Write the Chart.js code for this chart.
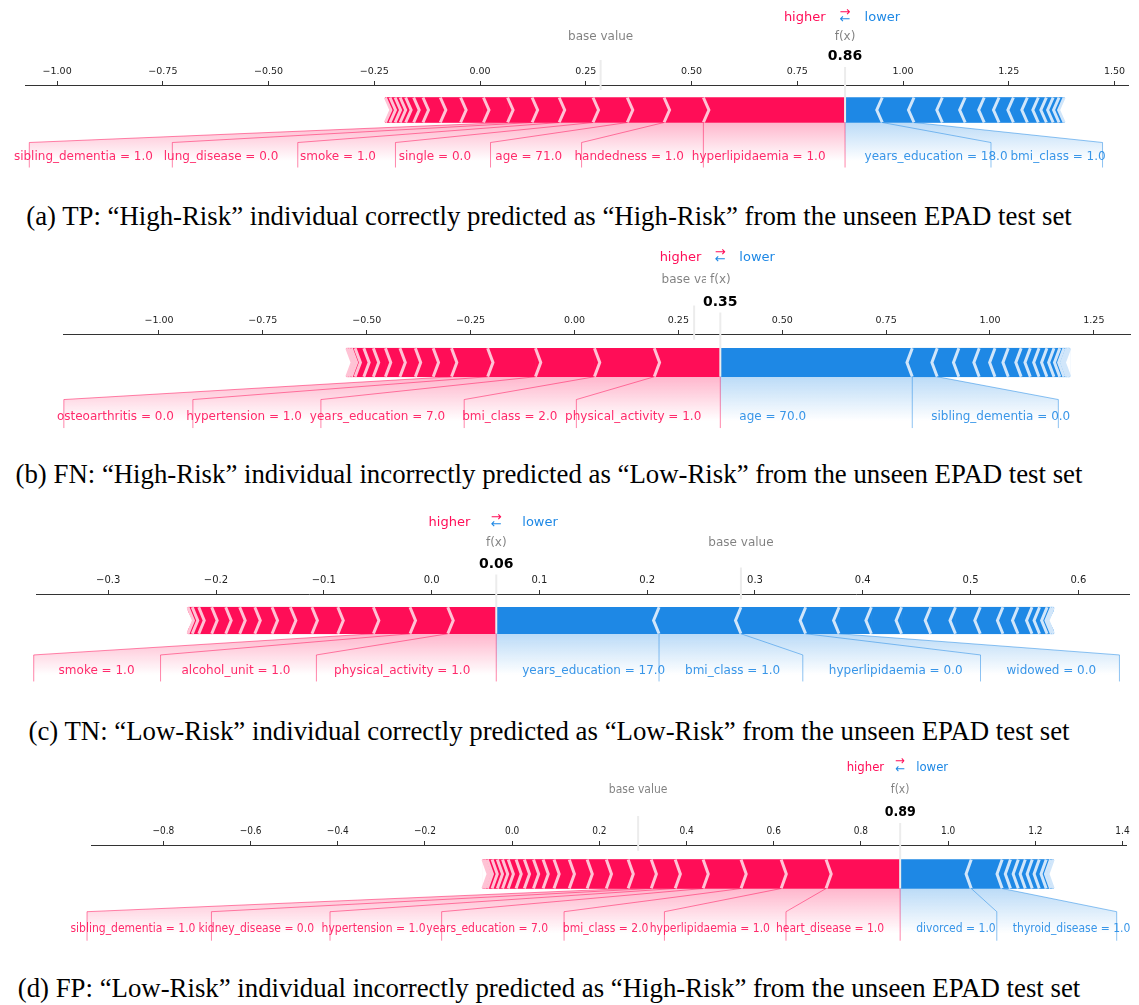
<!DOCTYPE html>
<html>
<head>
<meta charset="utf-8">
<script src="https://cdn.jsdelivr.net/npm/chart.js@4.4.0/dist/chart.umd.min.js"></script>
<style>
  body { margin: 0; background: #fff; width: 1139px; height: 1005px; position: relative; overflow: hidden; }
  .panel { position: absolute; left: 0; width: 1139px; }
  .caption { position: absolute; left: 0; width: 1098px; text-align: center; white-space: nowrap;
             font-family: "Liberation Serif", "Times New Roman", serif; font-size: 26.8px; line-height: 30px; color: #000; }
</style>
</head>
<body>
<div class="panel" style="top:0;height:185px"><canvas id="forceTP"></canvas></div>
<div class="caption" style="top:201px">(a) TP: “High-Risk” individual correctly predicted as “High-Risk” from the unseen EPAD test set</div>
<div class="panel" style="top:245px;height:203px"><canvas id="forceFN"></canvas></div>
<div class="caption" style="top:459px">(b) FN: “High-Risk” individual incorrectly predicted as “Low-Risk” from the unseen EPAD test set</div>
<div class="panel" style="top:505px;height:195px"><canvas id="forceTN"></canvas></div>
<div class="caption" style="top:716px">(c) TN: “Low-Risk” individual correctly predicted as “Low-Risk” from the unseen EPAD test set</div>
<div class="panel" style="top:755px;height:206px"><canvas id="forceFP"></canvas></div>
<div class="caption" style="top:973px">(d) FP: “Low-Risk” individual incorrectly predicted as “High-Risk” from the unseen EPAD test set</div>

<script>
// (a) TP
const tpOutput = 0.863;
const tpBase = 0.285;
const tpHigherNames = ["hyperlipidaemia = 1.0", "handedness = 1.0", "age = 71.0", "single = 0.0", "smoke = 1.0", "lung_disease = 0.0", "sibling_dementia = 1.0"];
const tpHigherShap = [0.335, 0.093, 0.087, 0.081, 0.080, 0.064, 0.058, 0.057, 0.054, 0.048, 0.041, 0.022, 0.019, 0.013, 0.012, 0.012, 0.011];
const tpLowerNames = ["years_education = 18.0", "bmi_class = 1.0"];
const tpLowerShap = [0.088, 0.075, 0.067, 0.054, 0.045, 0.035, 0.034, 0.033, 0.026, 0.019, 0.016, 0.014, 0.012];
const tpTicks = [-1, -0.75, -0.5, -0.25, 0, 0.25, 0.5, 0.75, 1, 1.25, 1.5];
const tpRange = [-1.076, 1.532];

// (b) FN
const fnOutput = 0.351;
const fnBase = 0.288;
const fnHigherNames = ["physical_activity = 1.0", "bmi_class = 2.0", "years_education = 7.0", "hypertension = 1.0", "osteoarthritis = 0.0"];
const fnHigherShap = [0.159, 0.144, 0.142, 0.115, 0.087, 0.044, 0.043, 0.037, 0.035, 0.029, 0.023, 0.021, 0.009, 0.006, 0.005];
const fnLowerNames = ["age = 70.0", "sibling_dementia = 0.0"];
const fnLowerShap = [0.462, 0.060, 0.052, 0.049, 0.038, 0.032, 0.031, 0.022, 0.021, 0.019, 0.017, 0.014, 0.010, 0.007, 0.004, 0.003];
const fnTicks = [-1, -0.75, -0.5, -0.25, 0, 0.25, 0.5, 0.75, 1, 1.25];
const fnRange = [-1.231, 1.337];

// (c) TN
const tnOutput = 0.060;
const tnBase = 0.287;
const tnHigherNames = ["physical_activity = 1.0", "alcohol_unit = 1.0", "smoke = 1.0"];
const tnHigherShap = [0.045, 0.035, 0.034, 0.033, 0.024, 0.020, 0.017, 0.016, 0.014, 0.013, 0.013, 0.012, 0.006, 0.004];
const tnLowerNames = ["years_education = 17.0", "bmi_class = 1.0", "hyperlipidaemia = 0.0", "widowed = 0.0"];
const tnLowerShap = [0.151, 0.076, 0.060, 0.031, 0.030, 0.028, 0.027, 0.023, 0.023, 0.021, 0.014, 0.013, 0.007, 0.007, 0.004, 0.002];
const tnTicks = [-0.3, -0.2, -0.1, 0, 0.1, 0.2, 0.3, 0.4, 0.5, 0.6];
const tnRange = [-0.367, 0.647];

// (d) FP
const fpOutput = 0.890;
const fpBase = 0.289;
const fpHigherNames = ["heart_disease = 1.0", "hyperlipidaemia = 1.0", "bmi_class = 2.0", "years_education = 7.0", "hypertension = 1.0", "kidney_disease = 0.0", "sibling_dementia = 1.0"];
const fpHigherShap = [0.170, 0.103, 0.092, 0.087, 0.064, 0.055, 0.053, 0.050, 0.044, 0.041, 0.035, 0.025, 0.022, 0.021, 0.019, 0.018, 0.013, 0.012, 0.012, 0.011, 0.006, 0.004];
const fpLowerNames = ["divorced = 1.0", "thyroid_disease = 1.0"];
const fpLowerShap = [0.163, 0.071, 0.019, 0.018, 0.016, 0.016, 0.016, 0.016, 0.010, 0.006];
const fpTicks = [-0.8, -0.6, -0.4, -0.2, 0, 0.2, 0.4, 0.6, 0.8, 1.0, 1.2, 1.4];
const fpRange = [-0.966, 1.408];

const RED = "#FF0D57", RED_LIGHT = "#FFC3D5", BLUE = "#1E88E5", BLUE_LIGHT = "#D1E6FA";
const AXIS_H = 22, Y_MIN = -0.25, Y_MAX = 0.15, BAR_W = 0.1;
const MEASURE_FONT = '12px "DejaVu Sans"';

function rgba(hex, a) {
    const n = parseInt(hex.slice(1), 16);
    return "rgba(" + (n >> 16) + "," + ((n >> 8) & 255) + "," + (n & 255) + "," + a + ")";
}

// sign 1: pushes output up, stacks leftwards from f(x); -1: stacks rightwards
function stack(out, shap, sign) {
    let pre = out;
    return shap.map(v => {
        const seg = { inner: pre, outer: pre - sign * v };
        pre = seg.outer;
        return seg;
    });
}

function forcePlot(id, out, base, hiNames, hiShap, loNames, loShap, ticks, range, decimals, look) {
    const hi = stack(out, hiShap, 1);
    const lo = stack(out, loShap, -1);
    const segs = hi.concat(lo);
    const areaH = look.height - look.padTop - AXIS_H;
    const barPx = areaH * BAR_W / (Y_MAX - Y_MIN);
    const fam = look.family;

    const overlay = {
        id: "force",
        afterDraw(chart) {
            const { ctx, scales: { x, y } } = chart;
            const X = v => x.getPixelForValue(v);
            const Y = v => y.getPixelForValue(v);
            const ppu = X(1) - X(0);
            const ind = (range[1] - range[0]) / 200;
            const path = (pts) => {
                ctx.beginPath();
                pts.forEach((p, i) => i ? ctx.lineTo(X(p[0]), Y(p[1])) : ctx.moveTo(X(p[0]), Y(p[1])));
            };
            ctx.save();

            // notch at the far end of each bar
            ctx.fillStyle = "#fff";
            [[hi, 1], [lo, -1]].forEach(([sg, sign]) => {
                if (!sg.length) return;
                const e = sg[sg.length - 1].outer;
                path([[e - sign * 0.002, 0], [e + sign * ind * 0.9, BAR_W / 2], [e - sign * 0.002, BAR_W]]);
                ctx.closePath();
                ctx.fill();
            });

            // chevron separators
            ctx.lineWidth = 3;
            ctx.lineJoin = "miter";
            [[hi, 1, RED_LIGHT], [lo, -1, BLUE_LIGHT]].forEach(([sg, sign, col]) => {
                ctx.strokeStyle = col;
                sg.forEach(s => {
                    path([[s.outer, 0], [s.outer + sign * ind, BAR_W / 2], [s.outer, BAR_W]]);
                    ctx.stroke();
                });
            });

            // feature labels, connectors and shading
            [[hi, hiNames, 1, RED], [lo, loNames, -1, BLUE]].forEach(([sg, names, sign, col]) => {
                ctx.font = MEASURE_FONT;
                const off = look.labelOffset / ppu;
                let start = out, pre = out, boxEnd = out;
                const items = [];
                names.forEach((name, i) => {
                    const val = sg[i].outer;
                    const w = ctx.measureText(name).width * look.labelScale / ppu;
                    const edge = start - sign * off - sign * w;
                    let pts;
                    if (sign * edge > sign * val) {
                        boxEnd = val;
                        pts = [[val, 0], [val, -0.18]];
                    } else {
                        boxEnd = edge - sign * off;
                        pts = [[val, 0], [boxEnd, -0.08], [boxEnd, -0.18]];
                    }
                    items.push({ name, at: start, pts });
                    start = boxEnd;
                    pre = val;
                });

                const g = ctx.createLinearGradient(0, Y(0), 0, Y(-0.155));
                g.addColorStop(0, rgba(col, 0.3));
                g.addColorStop(1, rgba(col, 0));
                ctx.fillStyle = g;
                path([[out, 0], [pre, 0], [boxEnd, -0.08], [boxEnd, -0.2], [out, -0.2]]);
                ctx.closePath();
                ctx.fill();

                ctx.strokeStyle = rgba(col, 0.5);
                ctx.lineWidth = 1;
                if (sign === 1) { path([[out, 0], [out, -0.18]]); ctx.stroke(); }
                items.forEach(it => { path(it.pts); ctx.stroke(); });

                ctx.font = look.labelFont;
                ctx.fillStyle = rgba(col, 0.88);
                ctx.textAlign = sign === 1 ? "right" : "left";
                ctx.textBaseline = "alphabetic";
                items.forEach(it => ctx.fillText(it.name, X(it.at) - sign * look.textShift, Y(-0.15)));
            });

            // base value and output markers
            const boxed = (text, px, py, font, color) => {
                ctx.font = font;
                const m = ctx.measureText(text);
                const pad = 4;
                ctx.fillStyle = "#fff";
                ctx.fillRect(px - m.width / 2 - pad, py - m.fontBoundingBoxAscent - pad,
                             m.width + 2 * pad, m.fontBoundingBoxAscent + m.fontBoundingBoxDescent + 2 * pad);
                ctx.fillStyle = color;
                ctx.textAlign = "center";
                ctx.textBaseline = "alphabetic";
                ctx.fillText(text, px, py);
            };
            ctx.strokeStyle = "#ECECEC";
            ctx.lineWidth = 2;
            path([[base, 0.13], [base, 0.25]]);
            ctx.stroke();
            boxed("base value", X(base), Y(0.33), "12px " + fam, "rgba(0,0,0,0.5)");
            ctx.strokeStyle = "#ECECEC";
            path([[out, 0], [out, 0.24]]);
            ctx.stroke();
            boxed(out.toFixed(2), X(out), Y(0.25), "bold 14px " + fam, "#000");
            boxed("f(x)", X(out), Y(0.33), "12px " + fam, "rgba(0,0,0,0.5)");

            // higher / lower legend
            ctx.font = "13px " + fam;
            ctx.textBaseline = "alphabetic";
            ctx.fillStyle = RED;
            ctx.textAlign = "right";
            ctx.fillText("higher", X(out) - look.textShift, Y(0.405));
            ctx.fillStyle = BLUE;
            ctx.textAlign = "left";
            ctx.fillText("lower", X(out) + look.textShift, Y(0.405));
            ctx.textAlign = "center";
            ctx.fillStyle = RED;
            ctx.fillText("\u2192", X(out), Y(0.425));
            ctx.fillStyle = BLUE;
            ctx.fillText("\u2190", X(out), Y(0.40));
            ctx.restore();
        }
    };

    new Chart(document.getElementById(id), {
        type: "bar",
        data: {
            datasets: [{
                data: segs.map(s => ({ x: [Math.min(s.inner, s.outer), Math.max(s.inner, s.outer)], y: BAR_W / 2 })),
                backgroundColor: hi.map(() => RED).concat(lo.map(() => BLUE)),
                borderWidth: 0,
                barThickness: barPx,
                grouped: false
            }]
        },
        options: {
            indexAxis: "y",
            responsive: true,
            maintainAspectRatio: false,
            animation: false,
            events: [],
            layout: { padding: { top: look.padTop, left: look.padLeft, right: look.padRight, bottom: 0 } },
            plugins: { legend: { display: false }, tooltip: { enabled: false } },
            scales: {
                x: {
                    type: "linear",
                    position: "top",
                    min: range[0],
                    max: range[1],
                    afterBuildTicks: s => { s.ticks = ticks.map(v => ({ value: v })); },
                    afterFit: s => { s.height = AXIS_H; },
                    ticks: {
                        callback: v => v.toFixed(decimals).replace("-", "\u2212"),
                        font: { family: look.tickFamily, size: look.tickSize },
                        color: "#222",
                        padding: 4,
                        maxRotation: 0,
                        autoSkip: false
                    },
                    grid: { display: true, drawOnChartArea: false, drawTicks: true, tickLength: 4, color: "#333" },
                    border: { display: true, color: "#333", width: 1 }
                },
                y: { type: "linear", display: false, offset: false, min: Y_MIN, max: Y_MAX }
            }
        },
        plugins: [overlay]
    });
}

document.addEventListener("DOMContentLoaded", function () {
    const dv = '"DejaVu Sans"', dvc = '"DejaVu Sans Condensed", "DejaVu Sans"';
    forcePlot("forceTP", tpOutput, tpBase, tpHigherNames, tpHigherShap, tpLowerNames, tpLowerShap, tpTicks, tpRange, 2,
        { height: 185, padTop: 63, padLeft: 25, padRight: 11, labelOffset: 21.5, labelScale: 0.72, textShift: 19.5,
          family: dv, labelFont: "12px " + dv, tickFamily: "DejaVu Sans", tickSize: 9.5 });
    forcePlot("forceFN", fnOutput, fnBase, fnHigherNames, fnHigherShap, fnLowerNames, fnLowerShap, fnTicks, fnRange, 2,
        { height: 203, padTop: 67, padLeft: 63, padRight: 9, labelOffset: 19.2, labelScale: 0.775, textShift: 19,
          family: dv, labelFont: "12px " + dv, tickFamily: "DejaVu Sans", tickSize: 9.5 });
    forcePlot("forceTN", tnOutput, tnBase, tnHigherNames, tnHigherShap, tnLowerNames, tnLowerShap, tnTicks, tnRange, 1,
        { height: 195, padTop: 67, padLeft: 36, padRight: 10, labelOffset: 30, labelScale: 0.88, textShift: 26,
          family: dv, labelFont: "12px " + dv, tickFamily: "DejaVu Sans", tickSize: 10 });
    forcePlot("forceFP", fpOutput, fpBase, fpHigherNames, fpHigherShap, fpLowerNames, fpLowerShap, fpTicks, fpRange, 1,
        { height: 206, padTop: 68, padLeft: 91, padRight: 13, labelOffset: 24, labelScale: 0.55, textShift: 16,
          family: dvc, labelFont: "12px " + dvc, tickFamily: "DejaVu Sans Condensed", tickSize: 10 });
});
</script>
</body>
</html>
